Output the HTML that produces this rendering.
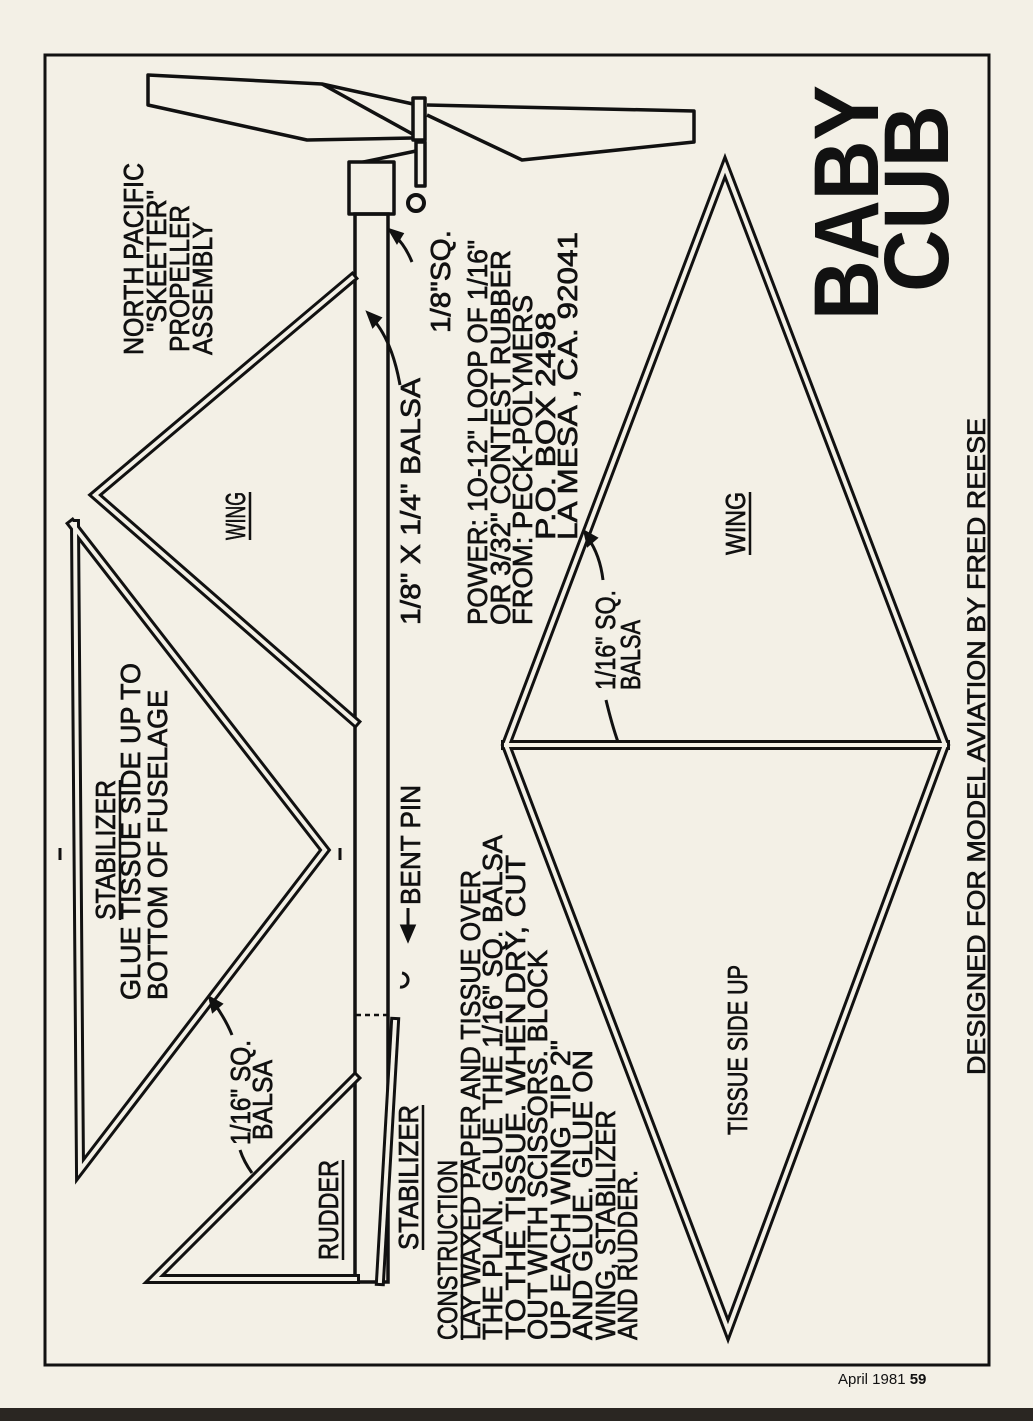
<!DOCTYPE html>
<html><head><meta charset="utf-8"><style>
html,body{margin:0;padding:0;background:#f3f0e6;}
svg{display:block;}
text{font-family:"Liberation Sans",sans-serif;fill:#111;}
.t text{stroke:#111;stroke-width:0.7;}
</style></head><body>
<svg width="1033" height="1421" viewBox="0 0 1033 1421" xmlns="http://www.w3.org/2000/svg">
<rect width="1033" height="1421" fill="#f3f0e6"/>
<rect x="0" y="1408" width="1033" height="13" fill="#2a2622"/>
<rect x="45" y="55" width="944" height="1310" fill="none" stroke="#111" stroke-width="3"/>

<!-- propeller -->
<g fill="none" stroke="#111" stroke-width="3.5" stroke-linejoin="round">
<polyline points="413,104 322,84 148,75 148,105 307,140 413,138"/>
<line x1="322" y1="84" x2="416" y2="136"/>
<rect x="413" y="98" width="12" height="42" fill="#f3f0e6"/>
<polyline points="427,105 694,111 694,142 522,160 427,115"/>
<rect x="416" y="142" width="9" height="44"/>
<polyline points="349,165 416,151"/>
<rect x="349" y="162" width="45" height="52" fill="#f3f0e6"/>
<circle cx="416" cy="203" r="8" stroke-width="4"/>
</g>

<!-- fuselage -->
<g fill="none" stroke="#111" stroke-width="3.5">
<rect x="355" y="214" width="33" height="1068"/>
<line x1="356" y1="1015" x2="387" y2="1015" stroke-dasharray="5,4" stroke-width="2.5"/>
<line x1="60" y1="848" x2="60" y2="860" stroke-width="3"/>
<line x1="340" y1="848" x2="340" y2="860" stroke-width="3"/>
</g>

<!-- double-line sticks -->
<g fill="none" stroke-linejoin="miter" stroke-miterlimit="6" stroke-linecap="square">
<g stroke="#111" stroke-width="10">
<polyline points="352,278 95,495 355,722"/>
<polyline points="75,524 80,1170 325,850 72,524"/>
<polyline points="355,1078 154,1279 355,1279"/>
<polyline points="380,1281 395,1022"/>
<polygon points="725,167 945,745 728,1330 506,745"/>
<line x1="506" y1="745" x2="945" y2="745"/>
</g>
<g stroke="#f3f0e6" stroke-width="4">
<polyline points="352,278 95,495 355,722"/>
<polyline points="75,524 80,1170 325,850 72,524"/>
<polyline points="355,1078 154,1279 355,1279"/>
<polyline points="380,1281 395,1022"/>
<polygon points="725,167 945,745 728,1330 506,745"/>
<line x1="506" y1="745" x2="945" y2="745"/>
</g>
</g>

<!-- arrows -->
<g fill="none" stroke="#111" stroke-width="3">
<path d="M412,262 Q405,245 395,236"/><path d="M390,230 l12,4 l-5,8 z" fill="#111"/>
<path d="M400,385 Q392,340 372,318"/><path d="M368,313 l12,5 l-7,8 z" fill="#111"/>
<path d="M603,580 Q600,555 588,538"/><path d="M585,532 l11,6 l-8,7 z" fill="#111"/>
<path d="M606,700 Q612,725 618,742"/>
<path d="M232,1035 Q226,1020 214,1003"/><path d="M210,998 l11,6 l-8,7 z" fill="#111"/>
<path d="M240,1150 Q244,1162 252,1173"/>
<line x1="408" y1="908" x2="408" y2="930"/><path d="M402,926 l6,14 l6,-14 z" fill="#111"/>
<path d="M402,973 a7,7 0 1 1 -2,14"/>
</g>

<g font-size="28" class="t">
<text transform="translate(143,355) rotate(-90)" textLength="192" lengthAdjust="spacingAndGlyphs">NORTH PACIFIC</text>
<text transform="translate(166,332) rotate(-90)" textLength="142" lengthAdjust="spacingAndGlyphs">"SKEETER"</text>
<text transform="translate(189,352) rotate(-90)" textLength="147" lengthAdjust="spacingAndGlyphs">PROPELLER</text>
<text transform="translate(212,355) rotate(-90)" textLength="133" lengthAdjust="spacingAndGlyphs">ASSEMBLY</text>
<text transform="translate(245,540) rotate(-90)" textLength="48" lengthAdjust="spacingAndGlyphs">WING</text>
<text transform="translate(450,333) rotate(-90)" textLength="103" lengthAdjust="spacingAndGlyphs">1/8"SQ.</text>
<text transform="translate(420,625) rotate(-90)" textLength="247" lengthAdjust="spacingAndGlyphs">1/8" X 1/4" BALSA</text>
<text transform="translate(487,625) rotate(-90)" textLength="385" lengthAdjust="spacingAndGlyphs">POWER: 1O-12" LOOP OF 1/16"</text>
<text transform="translate(510,625) rotate(-90)" textLength="375" lengthAdjust="spacingAndGlyphs">OR 3/32" CONTEST RUBBER</text>
<text transform="translate(532,625) rotate(-90)" textLength="330" lengthAdjust="spacingAndGlyphs">FROM:   PECK-POLYMERS</text>
<text transform="translate(555,540) rotate(-90)" textLength="228" lengthAdjust="spacingAndGlyphs">P.O.   BOX  2498</text>
<text transform="translate(577,540) rotate(-90)" textLength="308" lengthAdjust="spacingAndGlyphs">LA  MESA , CA.  92041</text>
<text transform="translate(745,555) rotate(-90)" textLength="63" lengthAdjust="spacingAndGlyphs">WING</text>
<text transform="translate(615,690) rotate(-90)" textLength="100" lengthAdjust="spacingAndGlyphs">1/16" SQ.</text>
<text transform="translate(640,690) rotate(-90)" textLength="70" lengthAdjust="spacingAndGlyphs">BALSA</text>
<text transform="translate(115,920) rotate(-90)" textLength="140" lengthAdjust="spacingAndGlyphs">STABILIZER</text>
<text transform="translate(140,1000) rotate(-90)" textLength="337" lengthAdjust="spacingAndGlyphs">GLUE TISSUE SIDE UP TO</text>
<text transform="translate(167,1000) rotate(-90)" textLength="310" lengthAdjust="spacingAndGlyphs">BOTTOM OF FUSELAGE</text>
<text transform="translate(420,905) rotate(-90)" textLength="120" lengthAdjust="spacingAndGlyphs">BENT PIN</text>
<text transform="translate(250,1145) rotate(-90)" textLength="105" lengthAdjust="spacingAndGlyphs">1/16" SQ.</text>
<text transform="translate(272,1140) rotate(-90)" textLength="80" lengthAdjust="spacingAndGlyphs">BALSA</text>
<text transform="translate(338,1260) rotate(-90)" textLength="100" lengthAdjust="spacingAndGlyphs">RUDDER</text>
<text transform="translate(418,1250) rotate(-90)" textLength="145" lengthAdjust="spacingAndGlyphs">STABILIZER</text>
<text transform="translate(457,1340) rotate(-90)" textLength="180" lengthAdjust="spacingAndGlyphs">CONSTRUCTION</text>
<text transform="translate(480,1340) rotate(-90)" textLength="470" lengthAdjust="spacingAndGlyphs">LAY WAXED PAPER AND TISSUE OVER</text>
<text transform="translate(502,1340) rotate(-90)" textLength="505" lengthAdjust="spacingAndGlyphs">THE PLAN.  GLUE THE 1/16" SQ. BALSA</text>
<text transform="translate(525,1340) rotate(-90)" textLength="485" lengthAdjust="spacingAndGlyphs">TO THE TISSUE.  WHEN DRY,  CUT</text>
<text transform="translate(547,1340) rotate(-90)" textLength="390" lengthAdjust="spacingAndGlyphs">OUT WITH SCISSORS. BLOCK</text>
<text transform="translate(570,1340) rotate(-90)" textLength="300" lengthAdjust="spacingAndGlyphs">UP EACH WING TIP 2"</text>
<text transform="translate(592,1340) rotate(-90)" textLength="290" lengthAdjust="spacingAndGlyphs">AND GLUE.  GLUE ON</text>
<text transform="translate(615,1340) rotate(-90)" textLength="230" lengthAdjust="spacingAndGlyphs">WING, STABILIZER</text>
<text transform="translate(637,1340) rotate(-90)" textLength="170" lengthAdjust="spacingAndGlyphs">AND RUDDER.</text>
<text transform="translate(747,1135) rotate(-90)" textLength="170" lengthAdjust="spacingAndGlyphs">TISSUE  SIDE  UP</text>
<text transform="translate(985,1075) rotate(-90)" font-size="25" textLength="657" lengthAdjust="spacingAndGlyphs">DESIGNED FOR MODEL AVIATION BY FRED REESE</text>
</g>
<g stroke="#111" stroke-width="2.5">
<line x1="250" y1="540" x2="250" y2="492"/>
<line x1="750" y1="555" x2="750" y2="492"/>
<line x1="120" y1="920" x2="120" y2="780"/>
<line x1="343" y1="1260" x2="343" y2="1160"/>
<line x1="423" y1="1250" x2="423" y2="1105"/>
<line x1="462" y1="1340" x2="462" y2="1160"/>
<line x1="990" y1="850" x2="990" y2="780" stroke-width="0"/>
</g>

<text transform="translate(878,320) rotate(-90)" font-size="92" font-weight="bold" textLength="235" lengthAdjust="spacingAndGlyphs">BABY</text>
<text transform="translate(948,292) rotate(-90)" font-size="92" font-weight="bold" textLength="187" lengthAdjust="spacingAndGlyphs">CUB</text>

<text x="838" y="1384" font-size="15">April 1981 <tspan font-weight="bold">59</tspan></text>
</svg>
</body></html>
